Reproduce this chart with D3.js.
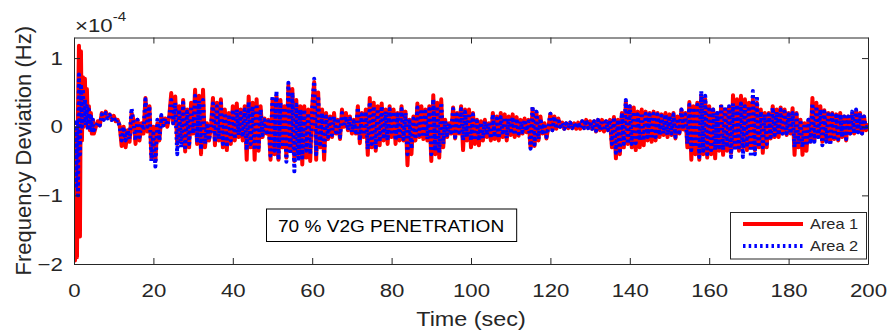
<!DOCTYPE html>
<html>
<head>
<meta charset="utf-8">
<script src="https://cdn.jsdelivr.net/npm/d3@7"></script>
<style>
  html, body { margin: 0; padding: 0; background: #fff; }
  svg { display: block; font-family: "Liberation Sans", Arial, sans-serif; }
</style>
</head>
<body>
<svg id="chart" width="890" height="333"></svg>
<script>
// Frequency deviation of the two control areas (units of 1e-4 Hz)
const transientTime = [0, 0.25, 0.5, 0.75, 1, 1.25, 1.5, 1.75, 2, 2.25, 2.5, 2.75, 3, 3.25, 3.5, 3.75, 4, 4.25, 4.5, 4.75, 5];
const transientArea1 = [0, -1.95, -1.2, -1.9, 0.2, 1.18, -1.6, 1.1, -0.2, 0.72, 0.0, 0.7, 0.05, 0.55, 0.0, 0.3, -0.05, 0.2, -0.1, 0.1, -0.1];
const transientArea2 = [0, -0.2, -0.9, 0.1, -1.0, 0.76, -0.4, 0.62, 0.0, 0.55, 0.05, 0.4, 0.0, 0.3, -0.05, 0.25, 0.0, 0.15, -0.05, 0.1, -0.05];

// samples every 0.5 s from t = 5.5 s to t = 200 s (one row = 5 s)
const steadyStart = 5.5;
const steadyStep = 0.5;
const area1 = [
  0.0, 0.08, 0.02, 0.2, 0.12, 0.22, 0.14, 0.18, 0.1, 0.16,
  0.08, 0.1, 0.02, -0.28, 0.0, -0.3, -0.05, -0.22, 0.2, 0.1,
  -0.25, 0.1, -0.2, 0.05, -0.1, 0.42, -0.07, 0.3, -0.45, 0.0,
  -0.5, 0.05, -0.2, 0.15, 0.02, 0.12, 0.0, 0.15, 0.49, 0.05,
  0.44, -0.25, 0.3, -0.2, 0.39, -0.36, 0.25, -0.3, 0.35, -0.1,
  0.54, -0.25, 0.45, -0.4, 0.54, -0.3, 0.05, -0.2, 0.0, 0.42,
  -0.27, 0.35, -0.2, 0.4, -0.3, 0.25, -0.34, 0.2, -0.25, 0.3,
  -0.2, 0.34, -0.15, 0.25, -0.2, 0.3, -0.48, 0.44, -0.3, 0.35,
  -0.48, 0.4, -0.35, 0.3, -0.15, 0.12, -0.1, 0.1, -0.48, 0.4,
  -0.4, 0.45, -0.48, 0.39, -0.3, 0.3, -0.45, 0.6, -0.35, 0.55,
  -0.5, 0.39, -0.4, 0.3, -0.55, 0.3, -0.45, 0.25, -0.5, 0.3,
  0.65, -0.48, 0.5, -0.3, 0.25, -0.48, 0.2, -0.18, 0.15, -0.15,
  0.2, -0.1, 0.1, -0.18, 0.25, 0.0, 0.2, -0.05, 0.15, -0.1,
  0.1, -0.1, 0.3, -0.24, 0.2, -0.15, 0.25, -0.41, 0.42, -0.3,
  0.35, -0.35, 0.3, -0.27, 0.34, -0.2, 0.25, -0.25, 0.3, -0.15,
  0.25, -0.25, 0.2, -0.2, 0.3, -0.2, 0.22, -0.56, 0.1, -0.4,
  0.15, -0.2, 0.34, -0.15, 0.3, -0.18, 0.25, -0.2, 0.3, -0.5,
  0.46, -0.4, 0.35, -0.45, 0.4, -0.3, 0.1, -0.15, 0.05, -0.1,
  0.28, -0.17, 0.2, -0.1, 0.3, -0.34, 0.25, -0.2, 0.25, -0.3,
  0.2, -0.25, 0.1, -0.27, 0.08, -0.2, 0.1, -0.15, 0.05, -0.2,
  0.2, -0.18, 0.15, -0.2, 0.2, -0.15, 0.18, -0.2, 0.15, -0.12,
  0.18, -0.15, 0.14, -0.13, 0.1, -0.1, 0.12, -0.08, 0.1, -0.3,
  0.26, -0.28, 0.2, -0.2, 0.15, -0.1, 0.05, -0.17, 0.0, 0.19,
  -0.05, 0.15, -0.03, 0.12, 0.0, 0.06, -0.03, 0.05, -0.02, 0.06,
  -0.02, 0.05, -0.03, 0.06, -0.03, 0.08, -0.02, 0.1, -0.02, 0.08,
  -0.03, 0.08, -0.07, 0.1, -0.05, 0.1, -0.07, 0.08, -0.05, 0.1,
  -0.3, 0.14, -0.46, 0.1, -0.4, 0.2, -0.3, 0.36, -0.25, 0.3,
  -0.3, 0.28, -0.34, 0.22, -0.3, 0.25, -0.27, 0.22, -0.2, 0.2,
  -0.22, 0.22, -0.2, 0.2, -0.15, 0.18, -0.12, 0.2, -0.15, 0.18,
  -0.12, 0.2, -0.17, 0.15, -0.1, 0.25, -0.04, 0.2, -0.3, 0.36,
  -0.48, 0.3, -0.4, 0.35, -0.48, 0.46, -0.4, 0.4, -0.45, 0.3,
  -0.4, 0.25, -0.46, 0.2, -0.35, 0.3, -0.41, 0.25, -0.35, 0.28,
  -0.38, 0.46, -0.3, 0.4, -0.35, 0.45, -0.3, 0.4, -0.34, 0.35,
  -0.3, 0.4, -0.34, 0.35, -0.3, 0.25, -0.38, 0.2, -0.3, 0.2,
  -0.17, 0.3, -0.15, 0.25, -0.15, 0.28, -0.1, 0.25, -0.12, 0.2,
  -0.1, 0.27, -0.41, 0.2, -0.3, 0.1, -0.41, 0.05, -0.35, 0.1,
  -0.22, 0.42, -0.2, 0.35, -0.15, 0.3, -0.22, 0.24, -0.2, 0.2,
  -0.22, 0.2, -0.18, 0.18, -0.2, 0.2, -0.15, 0.15, -0.2, 0.15,
  -0.1, 0.18, -0.1, 0.22, -0.08, 0.2, -0.1, 0.15, -0.05, 0.05
];
const area2 = [
  0.0, 0.06, 0.02, 0.18, 0.1, 0.2, 0.12, 0.17, 0.1, 0.15,
  0.06, 0.1, 0.0, -0.2, 0.0, -0.2, -0.05, -0.18, 0.27, 0.05,
  -0.2, 0.1, -0.15, 0.05, -0.05, 0.4, 0.0, 0.3, -0.5, -0.1,
  -0.58, 0.1, -0.2, 0.17, 0.02, 0.12, 0.02, 0.15, 0.39, 0.05,
  0.35, -0.4, 0.25, -0.3, 0.35, -0.3, 0.22, -0.25, 0.3, -0.1,
  0.45, -0.2, 0.38, -0.33, 0.39, -0.25, 0.05, -0.2, 0.0, 0.34,
  -0.22, 0.3, -0.18, 0.34, -0.25, 0.2, -0.3, 0.18, -0.2, 0.25,
  -0.18, 0.25, -0.12, 0.2, -0.15, 0.25, -0.34, 0.36, -0.25, 0.3,
  -0.34, 0.33, -0.3, 0.25, -0.12, 0.1, -0.08, 0.08, -0.42, 0.45,
  -0.35, 0.52, -0.48, 0.35, -0.3, 0.28, -0.51, 0.64, -0.4, 0.5,
  -0.65, 0.32, -0.5, 0.25, -0.45, 0.25, -0.35, 0.2, -0.4, 0.25,
  0.7, -0.4, 0.45, -0.25, 0.2, -0.4, 0.15, -0.15, 0.12, -0.12,
  0.15, -0.08, 0.08, -0.15, 0.2, 0.0, 0.15, -0.05, 0.12, -0.08,
  0.08, -0.08, 0.28, -0.2, 0.18, -0.12, 0.22, -0.33, 0.36, -0.25,
  0.3, -0.3, 0.26, -0.22, 0.3, -0.18, 0.22, -0.2, 0.26, -0.12,
  0.22, -0.2, 0.18, -0.18, 0.26, -0.18, 0.2, -0.4, 0.08, -0.32,
  0.12, -0.18, 0.28, -0.12, 0.26, -0.15, 0.22, -0.18, 0.26, -0.4,
  0.4, -0.35, 0.3, -0.38, 0.35, -0.25, 0.08, -0.12, 0.05, -0.08,
  0.26, -0.15, 0.18, -0.08, 0.26, -0.2, 0.22, -0.15, 0.2, -0.2,
  0.18, -0.2, 0.08, -0.2, 0.06, -0.17, 0.08, -0.12, 0.05, -0.17,
  0.18, -0.15, 0.12, -0.17, 0.14, -0.12, 0.14, -0.17, 0.12, -0.1,
  0.14, -0.12, 0.12, -0.1, 0.08, -0.08, 0.1, -0.06, 0.08, -0.32,
  0.3, -0.26, 0.22, -0.18, 0.12, -0.08, 0.05, -0.15, 0.0, 0.19,
  -0.05, 0.15, -0.03, 0.12, 0.0, 0.06, -0.03, 0.05, -0.02, 0.06,
  -0.02, 0.05, -0.02, 0.06, -0.02, 0.08, -0.02, 0.1, -0.02, 0.08,
  -0.03, 0.08, -0.06, 0.1, -0.05, 0.1, -0.06, 0.08, -0.05, 0.1,
  -0.25, 0.14, -0.38, 0.1, -0.35, 0.2, -0.25, 0.39, -0.25, 0.3,
  -0.25, 0.22, -0.24, 0.18, -0.2, 0.2, -0.2, 0.19, -0.15, 0.18,
  -0.18, 0.19, -0.15, 0.18, -0.12, 0.16, -0.1, 0.18, -0.12, 0.16,
  -0.1, 0.18, -0.15, 0.12, -0.08, 0.25, -0.04, 0.18, -0.25, 0.32,
  -0.34, 0.28, -0.3, 0.32, -0.44, 0.52, -0.35, 0.45, -0.4, 0.25,
  -0.34, 0.25, -0.34, 0.2, -0.3, 0.34, -0.34, 0.3, -0.3, 0.3,
  -0.44, 0.34, -0.35, 0.32, -0.3, 0.34, -0.44, 0.3, -0.3, 0.3,
  -0.44, 0.52, -0.4, 0.45, -0.3, 0.22, -0.3, 0.18, -0.25, 0.18,
  -0.15, 0.28, -0.12, 0.22, -0.12, 0.25, -0.1, 0.22, -0.1, 0.18,
  -0.1, 0.2, -0.3, 0.18, -0.25, 0.1, -0.3, 0.05, -0.28, 0.1,
  -0.25, 0.34, -0.22, 0.3, -0.15, 0.25, -0.27, 0.22, -0.22, 0.18,
  -0.27, 0.18, -0.2, 0.16, -0.18, 0.18, -0.15, 0.15, -0.18, 0.15,
  -0.1, 0.22, -0.1, 0.25, -0.08, 0.2, -0.1, 0.15, -0.05, 0.05
];

const xTicks = [0, 20, 40, 60, 80, 100, 120, 140, 160, 180, 200];
const yTicks = [-2, -1, 0, 1];
const seriesNames = ["Area 1", "Area 2"];
const annotation = "70 % V2G PENETRATION";

// assemble (time, value) pairs
function buildSeries(trans, steady) {
  const pts = transientTime.map((t, i) => [t, trans[i]]);
  steady.forEach((v, i) => pts.push([steadyStart + i * steadyStep, v]));
  return pts;
}
const s1 = buildSeries(transientArea1, area1);
const s2 = buildSeries(transientArea2, area2);

const svg = d3.select("#chart");
const m = { left: 74, right: 868, top: 37.5, bottom: 264 };
const axisColor = "#262626";
const SX = 1.17; // horizontal widening of the lettering

const x = d3.scaleLinear().domain([0, 200]).range([m.left, m.right]);
const y = d3.scaleLinear().domain([-2, 1.3]).range([m.bottom, m.top]);

svg.append("defs").append("clipPath").attr("id", "plotclip")
  .append("rect").attr("x", m.left).attr("y", m.top)
  .attr("width", m.right - m.left).attr("height", m.bottom - m.top);

const line = d3.line().x(d => x(d[0])).y(d => y(d[1]));

const plot = svg.append("g").attr("clip-path", "url(#plotclip)");
plot.append("path").datum(s1)
  .attr("d", line).attr("fill", "none").attr("stroke", "#ff0000")
  .attr("stroke-width", 4).attr("stroke-linejoin", "round");
plot.append("path").datum(s2)
  .attr("d", line).attr("fill", "none").attr("stroke", "#0000ff")
  .attr("stroke-width", 4).attr("stroke-dasharray", "2.5,3.2")
  .attr("stroke-linejoin", "round");

// axes with inward ticks on all four sides
const tickLen = 6;
const axB = d3.axisBottom(x).tickValues(xTicks).tickSizeInner(-tickLen).tickSizeOuter(0).tickPadding(20);
const axT = d3.axisTop(x).tickValues(xTicks).tickSizeInner(-tickLen).tickSizeOuter(0).tickFormat("");
const axL = d3.axisLeft(y).tickValues(yTicks).tickSizeInner(-tickLen).tickSizeOuter(0).tickPadding(9.5).tickFormat(d3.format("d"));
const axR = d3.axisRight(y).tickValues(yTicks).tickSizeInner(-tickLen).tickSizeOuter(0).tickFormat("");

function styleAxis(g) {
  g.selectAll("path,line").attr("stroke", axisColor).attr("stroke-width", 1);
  g.selectAll("text").attr("fill", axisColor).attr("font-size", 19)
    .attr("font-family", "Liberation Sans, Arial, sans-serif")
    .attr("transform", `scale(${SX},1)`);
}
svg.append("g").attr("transform", `translate(0,${m.bottom})`).call(axB).call(styleAxis);
svg.append("g").attr("transform", `translate(0,${m.top})`).call(axT).call(styleAxis);
svg.append("g").attr("transform", `translate(${m.left},0)`).call(axL).call(styleAxis);
svg.append("g").attr("transform", `translate(${m.right},0)`).call(axR).call(styleAxis);

// widened text placed at an anchor point
function label(px, py, size, anchor, str, color) {
  const g = svg.append("g").attr("transform", `translate(${px},${py}) scale(${SX},1)`);
  return g.append("text").attr("text-anchor", anchor).attr("font-size", size)
    .attr("fill", color || axisColor).text(str);
}

// exponent marker
const expo = label(75, 32, 19, "start", "");
expo.append("tspan").text("\u00d710");
expo.append("tspan").attr("dy", -11).attr("font-size", 13).text("-4");

// axis labels
label((m.left + m.right) / 2, 326, 20, "middle", "Time (sec)");
svg.append("text")
  .attr("transform", `translate(31,${(m.top + m.bottom) / 2}) rotate(-90)`)
  .attr("text-anchor", "middle").attr("fill", axisColor).attr("font-size", 22)
  .text("Frequency Deviation (Hz)");

// annotation box
const annRect = svg.append("rect");
const annText = label(278, 231.5, 16.3, "start", annotation, "#000");
const annW = annText.node().getComputedTextLength() * SX;
annRect.attr("x", 266.5).attr("y", 209).attr("width", annW + 24).attr("height", 32.5)
  .attr("fill", "#fff").attr("stroke", "#000").attr("stroke-width", 1);

// legend
svg.append("rect").attr("x", 730.5).attr("y", 212.5).attr("width", 136).attr("height", 46.5)
  .attr("fill", "#fff").attr("stroke", axisColor).attr("stroke-width", 1);
const legendRows = [
  { name: seriesNames[0], color: "#ff0000", dash: null, yy: 224 },
  { name: seriesNames[1], color: "#0000ff", dash: "2.5,3.2", yy: 246 }
];
legendRows.forEach(r => {
  svg.append("line").attr("x1", 743).attr("x2", 803).attr("y1", r.yy).attr("y2", r.yy)
    .attr("stroke", r.color).attr("stroke-width", 4)
    .attr("stroke-dasharray", r.dash);
  label(810, r.yy + 5, 14, "start", r.name);
});
</script>
</body>
</html>
